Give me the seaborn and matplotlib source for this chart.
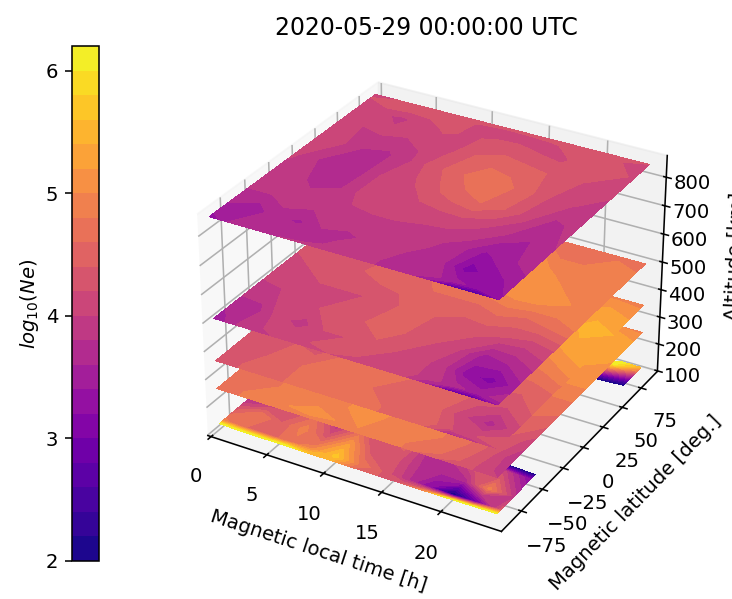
import numpy as np
import matplotlib
matplotlib.use('Agg')
import matplotlib.pyplot as plt
import seaborn as sns

# grid of the maps
mlt = [0, 2, 4, 6, 8, 10, 12, 14, 16, 18, 20, 22, 24]
lat = [-90, -85, -70, -50, -25, 0, 25, 50, 70, 85, 90]
lat_low = [-90, -85, -70, -50, -42, 0, 25, 62, 70, 85, 90]
altitudes = [120, 250, 350, 500, 850]
levels = [2.0, 2.2, 2.4, 2.6, 2.8, 3.0, 3.2, 3.4, 3.6, 3.8, 4.0, 4.2, 4.4, 4.6, 4.8, 5.0, 5.2, 5.4, 5.6, 5.8, 6.0, 6.2]
z_ticks = [100, 200, 300, 400, 500, 600, 700, 800]
title = '2020-05-29 00:00:00 UTC'

# log10(Ne), one row per latitude, one column per MLT
ne_110 = [
    [6.4, 6.3, 6.25, 6.3, 5.6, 5.4, 4.6, 4.4, 4.4, 5.0, 6.3, 6.4, 6.4],
    [4.9, 4.6, 4.5, 4.7, 5.0, 5.7, 4.8, 4.4, 3.9, 3.2, 1.9, 2.9, 4.3],
    [4.3, 4.8, 4.4, 4.9, 4.3, 5.2, 4.3, 4.3, 3.8, 3.6, 3.7, 4.9, 3.9],
    [3.3, 3.6, 4.1, 4.5, 3.6, 4.4, 4.4, 4.5, 3.5, 3.9, 4.6, 4.0, 3.2],
    [3.2, 3.8, 4.2, 4.3, 4.3, 4.3, 4.2, 4.1, 4.1, 2.6, 1.5, 1.5, 1.5],
    [3.8, 4.0, 4.3, 4.3, 4.4, 4.4, 4.3, 4.2, 4.2, 3.0, 1.5, 1.5, 1.5],
    [4.0, 4.1, 4.3, 4.5, 4.5, 4.3, 4.2, 4.3, 4.4, 3.0, 1.5, 1.5, 1.5],
    [4.2, 4.2, 4.3, 4.5, 4.5, 4.4, 4.4, 4.3, 4.4, 3.0, 1.5, 1.5, 1.5],
    [4.4, 4.5, 4.6, 4.6, 4.6, 4.6, 4.5, 4.5, 4.4, 3.6, 3.0, 2.8, 2.4],
    [5.5, 5.5, 5.5, 5.6, 5.6, 5.5, 5.5, 5.4, 5.3, 5.2, 5.6, 6.0, 4.8],
    [6.5, 6.5, 6.5, 6.5, 6.5, 6.5, 6.5, 6.5, 6.4, 6.1, 6.1, 6.3, 5.4],
]
ne_250 = [
    [4.6, 4.8, 4.9, 4.9, 4.9, 5.0, 5.0, 4.9, 4.8, 4.5, 4.3, 4.2, 4.0],
    [4.6, 4.8, 4.9, 5.0, 5.1, 5.0, 5.0, 4.9, 4.8, 4.7, 4.5, 4.2, 3.9],
    [4.6, 4.7, 4.8, 5.0, 4.9, 5.0, 5.1, 4.9, 4.9, 4.8, 4.6, 4.3, 3.8],
    [4.7, 4.8, 4.8, 4.9, 5.0, 5.0, 5.1, 5.0, 4.9, 4.8, 4.7, 4.4, 4.1],
    [4.8, 4.8, 4.8, 4.9, 4.9, 4.9, 4.9, 4.9, 4.8, 4.8, 4.7, 4.6, 4.5],
    [4.8, 4.8, 4.9, 4.9, 4.9, 4.9, 4.9, 4.8, 4.8, 4.8, 4.8, 4.8, 4.8],
    [4.8, 4.8, 4.9, 4.9, 5.0, 4.9, 4.9, 4.9, 4.9, 4.9, 5.0, 5.1, 5.1],
    [4.8, 4.9, 4.9, 5.0, 5.0, 5.0, 5.0, 5.0, 5.0, 5.1, 5.2, 5.3, 5.2],
    [4.9, 4.9, 5.0, 5.0, 5.0, 5.0, 5.0, 5.0, 5.1, 5.1, 5.2, 5.4, 5.3],
    [4.9, 4.9, 5.0, 5.0, 5.0, 5.0, 5.0, 5.0, 5.1, 5.1, 5.2, 5.2, 5.1],
    [4.9, 4.9, 5.0, 5.0, 5.0, 5.0, 5.0, 5.0, 5.0, 5.0, 5.0, 5.0, 4.9],
]
ne_350 = [
    [4.3, 4.4, 4.5, 4.6, 4.7, 4.7, 4.7, 4.6, 4.5, 4.4, 3.7, 3.9, 4.2],
    [4.3, 4.4, 4.5, 4.6, 4.7, 4.7, 4.7, 4.6, 4.6, 4.5, 4.2, 4.2, 4.3],
    [4.3, 4.3, 4.5, 4.6, 4.7, 4.7, 4.6, 4.6, 4.6, 4.4, 4.0, 3.7, 4.1],
    [4.4, 4.2, 4.4, 4.3, 4.6, 4.7, 4.7, 4.6, 4.6, 4.5, 4.3, 4.2, 4.4],
    [4.4, 4.4, 4.5, 4.6, 4.6, 4.7, 4.7, 4.7, 4.6, 4.6, 4.5, 4.5, 4.6],
    [4.5, 4.4, 4.5, 4.6, 4.6, 4.6, 4.7, 4.7, 4.7, 4.7, 4.8, 4.9, 5.1],
    [4.5, 4.5, 4.6, 4.6, 4.6, 4.7, 4.7, 4.7, 4.8, 4.9, 5.1, 5.3, 5.4],
    [4.6, 4.6, 4.6, 4.7, 4.7, 4.8, 4.8, 4.9, 5.0, 5.1, 5.3, 5.5, 5.4],
    [4.6, 4.6, 4.7, 4.7, 4.8, 4.8, 4.8, 4.9, 5.0, 5.1, 5.2, 5.3, 5.2],
    [4.6, 4.7, 4.7, 4.8, 4.8, 4.8, 4.8, 4.9, 4.9, 5.0, 5.1, 5.1, 5.0],
    [4.7, 4.7, 4.7, 4.8, 4.8, 4.8, 4.8, 4.8, 4.9, 4.9, 4.9, 4.9, 4.8],
]
ne_500 = [
    [3.4, 3.8, 3.9, 4.1, 4.2, 4.2, 4.2, 4.15, 4.1, 3.6, 2.9, 2.8, 3.4],
    [3.5, 3.8, 4.0, 4.15, 4.2, 4.25, 4.2, 4.15, 4.1, 3.9, 3.7, 3.5, 3.7],
    [3.7, 3.7, 4.1, 3.9, 4.2, 4.2, 4.3, 4.2, 4.1, 3.9, 3.3, 3.1, 3.5],
    [3.9, 3.95, 4.2, 4.2, 4.3, 4.4, 4.6, 4.3, 4.2, 4.0, 3.5, 3.6, 3.8],
    [4.1, 4.1, 4.2, 4.2, 4.2, 4.3, 4.5, 4.4, 4.3, 4.3, 4.2, 4.1, 4.2],
    [4.2, 4.3, 4.3, 4.4, 4.5, 4.5, 4.6, 4.6, 4.6, 4.7, 4.6, 4.7, 4.8],
    [4.3, 4.1, 4.2, 4.3, 4.5, 4.6, 4.9, 5.0, 5.1, 5.2, 5.2, 5.0, 4.9],
    [4.3, 4.2, 4.1, 4.2, 4.4, 4.6, 5.0, 5.2, 5.3, 5.1, 4.9, 4.8, 4.8],
    [4.3, 4.3, 4.3, 4.4, 4.5, 4.6, 4.9, 5.1, 5.1, 4.8, 4.8, 4.9, 4.9],
    [4.4, 4.4, 4.4, 4.5, 4.5, 4.6, 4.7, 4.8, 4.8, 4.7, 4.8, 4.8, 4.7],
    [4.4, 4.4, 4.4, 4.5, 4.5, 4.5, 4.6, 4.7, 4.7, 4.7, 4.7, 4.7, 4.6],
]
ne_850 = [
    [3.2, 3.7, 3.7, 3.8, 3.85, 3.85, 3.85, 3.8, 3.75, 3.5, 2.8, 2.6, 3.2],
    [3.4, 3.6, 3.7, 3.8, 3.7, 3.85, 3.85, 3.8, 3.8, 3.7, 3.5, 3.3, 3.4],
    [3.6, 3.45, 3.7, 3.55, 3.8, 3.75, 3.85, 3.85, 3.75, 3.65, 3.1, 3.3, 3.5],
    [3.8, 3.8, 3.9, 3.85, 3.9, 3.95, 3.95, 3.9, 3.85, 3.7, 3.35, 3.55, 3.7],
    [3.9, 3.85, 3.75, 3.8, 4.1, 4.1, 4.1, 4.1, 4.1, 4.0, 3.8, 3.6, 3.8],
    [4.05, 3.8, 3.7, 3.75, 4.1, 4.15, 4.35, 4.5, 4.6, 4.4, 4.1, 3.75, 3.85],
    [4.1, 4.05, 3.8, 3.75, 3.95, 4.3, 4.5, 4.75, 4.7, 4.5, 4.2, 4.05, 3.85],
    [4.1, 4.0, 4.05, 4.0, 4.05, 4.15, 4.4, 4.5, 4.45, 4.4, 4.3, 4.1, 4.1],
    [4.1, 4.05, 3.95, 4.1, 4.25, 4.15, 4.25, 4.25, 4.2, 4.15, 4.35, 4.35, 4.15],
    [4.2, 4.35, 4.35, 4.3, 4.3, 4.15, 4.05, 4.1, 4.15, 4.3, 4.3, 4.2, 4.15],
    [4.2, 4.2, 4.3, 4.3, 4.3, 4.3, 4.3, 4.3, 4.35, 4.3, 4.3, 4.25, 4.2],
]
layers = [ne_110, ne_250, ne_350, ne_500, ne_850]
layer_lats = [lat_low, lat, lat, lat, lat]

cmap = sns.color_palette('plasma', as_cmap=True)

fig = plt.figure(figsize=(732 / 141, 599 / 141), dpi=141)
ax = fig.add_axes([0.230, 0.050, 0.714, 0.888], projection='3d')

for alt, ne, rows in zip(altitudes, layers, layer_lats):
    X, Y = np.meshgrid(mlt, rows)
    cs = ax.contourf(X, Y, np.array(ne), zdir='z', offset=alt, levels=levels, cmap=cmap)

ax.set_xlim(-0.3, 25)
ax.set_ylim(-98, 97)
ax.set_zlim(98, 875)
ax.set_zticks(z_ticks)
ax.set_yticks([-75, -50, -25, 0, 25, 50, 75])
ax.set_xticks([0, 5, 10, 15, 20])
ax.tick_params(axis='z', pad=0)
ax.set_xlabel('Magnetic local time [h]')
ax.set_ylabel('Magnetic latitude [deg.]')
ax.set_zlabel('Altitude [km]', labelpad=2)
fig.text(0.582, 0.953, title, ha='center', va='center', fontsize=12)

cax = fig.add_axes([72 / 732, 1 - 561 / 599, 27 / 732, 515 / 599])
cb = fig.colorbar(cs, cax=cax)
cb.set_ticks([2, 3, 4, 5, 6])
cb.ax.yaxis.set_ticks_position('left')
cb.ax.yaxis.set_label_position('left')
cb.set_label(r'$log_{10}(Ne)$', labelpad=2.5)

fig.savefig('out.png', dpi=141)
